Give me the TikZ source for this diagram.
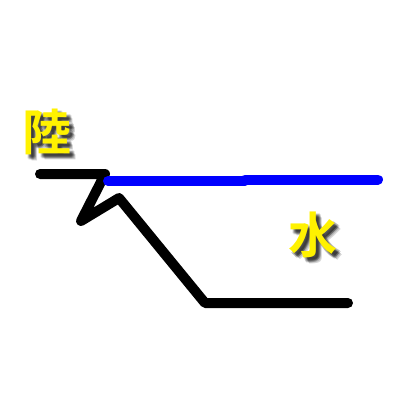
\documentclass[tikz,border=0pt]{standalone}
\usepackage{fontspec}
\newfontfamily\cjk{Noto Sans CJK JP}[BoldFont={* Bold}]
\newcommand{\shadowed}[1]{%
  \rlap{\begin{pgfscope}\pgfsetfillopacity{0.16}%
    \rlap{\hspace{3pt}\raisebox{-3pt}{\color{black}#1}}%
    \rlap{\hspace{4pt}\raisebox{-4pt}{\color{black}#1}}%
    \rlap{\hspace{5pt}\raisebox{-5pt}{\color{black}#1}}%
    \rlap{\hspace{2pt}\raisebox{-4pt}{\color{black}#1}}%
    \rlap{\hspace{4pt}\raisebox{-2pt}{\color{black}#1}}%
    \rlap{\hspace{3pt}\raisebox{-5pt}{\color{black}#1}}%
    \rlap{\hspace{5pt}\raisebox{-3pt}{\color{black}#1}}%
    \rlap{\hspace{6pt}\raisebox{-6pt}{\color{black}#1}}%
  \end{pgfscope}}#1}
\begin{document}
\begin{tikzpicture}[x=1pt,y=-1pt,
  thickline/.style={line width=10pt,line cap=round,line join=round},
  lbl/.style={font=\cjk\bfseries\fontsize{49}{49}\selectfont,text=yellow,inner sep=0pt}]
\fill[white] (0,0) rectangle (400,400);
\useasboundingbox (0,0) rectangle (400,400);
% black path
\coordinate (a) at (40,174);
\coordinate (b) at (105,174);
\coordinate (c) at (81,221);
\coordinate (d) at (119,198);
\coordinate (e) at (205,303);
\coordinate (f) at (348,303);
\draw[thickline,black] (a) -- (b) -- (c) -- (d) -- (e) -- (f);
% blue line
\coordinate (g) at (108,181);
\coordinate (h) at (245,181);
\coordinate (i) at (245,179.5);
\coordinate (j) at (378,179.5);
\draw[thickline,blue] (g) -- (h);
\draw[thickline,blue] (i) -- (j);
\node[lbl] (riku) at (47,135) {\shadowed{陸}};
\node[lbl] (mizu) at (313,238) {\shadowed{水}};
\end{tikzpicture}
\end{document}
